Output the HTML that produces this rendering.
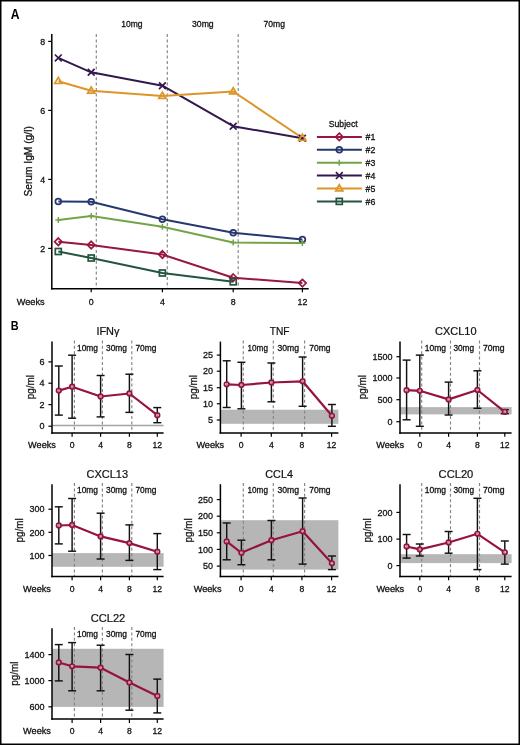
<!DOCTYPE html>
<html><head><meta charset="utf-8"><style>
html,body{margin:0;padding:0;background:#fff;}
body{width:520px;height:745px;overflow:hidden;}
svg{display:block;font-family:"Liberation Sans", sans-serif;will-change:transform;}
</style></head><body>
<svg width="520" height="745" viewBox="0 0 520 745">
<rect x="0" y="0" width="520" height="745" fill="#fff"/>
<text x="10.7" y="19.3" font-size="14.0" text-anchor="start" font-weight="bold" fill="#000" textLength="8.8" lengthAdjust="spacingAndGlyphs">A</text>
<line x1="96.3" y1="34" x2="96.3" y2="288.8" stroke="#858585" stroke-width="1.15" stroke-dasharray="3,2.4" stroke-linecap="butt"/>
<line x1="167.3" y1="34" x2="167.3" y2="288.8" stroke="#858585" stroke-width="1.15" stroke-dasharray="3,2.4" stroke-linecap="butt"/>
<line x1="238.2" y1="34" x2="238.2" y2="288.8" stroke="#858585" stroke-width="1.15" stroke-dasharray="3,2.4" stroke-linecap="butt"/>
<text x="121.2" y="27.4" font-size="8.6" text-anchor="start" font-weight="normal" fill="#111" stroke="#111" stroke-width="0.28" textLength="21.3" lengthAdjust="spacingAndGlyphs">10mg</text>
<text x="192" y="27.4" font-size="8.6" text-anchor="start" font-weight="normal" fill="#111" stroke="#111" stroke-width="0.28" textLength="21.7" lengthAdjust="spacingAndGlyphs">30mg</text>
<text x="263.6" y="27.4" font-size="8.6" text-anchor="start" font-weight="normal" fill="#111" stroke="#111" stroke-width="0.28" textLength="21.4" lengthAdjust="spacingAndGlyphs">70mg</text>
<line x1="51.8" y1="34" x2="51.8" y2="289.55" stroke="#000" stroke-width="1.5" stroke-linecap="butt"/>
<line x1="51.05" y1="288.8" x2="308.7" y2="288.8" stroke="#000" stroke-width="1.5" stroke-linecap="butt"/>
<line x1="48.2" y1="248.4" x2="51.8" y2="248.4" stroke="#000" stroke-width="1.2" stroke-linecap="butt"/>
<text x="45.2" y="251.6" font-size="8.8" text-anchor="end" font-weight="normal" fill="#111" stroke="#111" stroke-width="0.28">2</text>
<line x1="48.2" y1="179.4" x2="51.8" y2="179.4" stroke="#000" stroke-width="1.2" stroke-linecap="butt"/>
<text x="45.2" y="182.6" font-size="8.8" text-anchor="end" font-weight="normal" fill="#111" stroke="#111" stroke-width="0.28">4</text>
<line x1="48.2" y1="110.4" x2="51.8" y2="110.4" stroke="#000" stroke-width="1.2" stroke-linecap="butt"/>
<text x="45.2" y="113.60000000000001" font-size="8.8" text-anchor="end" font-weight="normal" fill="#111" stroke="#111" stroke-width="0.28">6</text>
<line x1="48.2" y1="41.4" x2="51.8" y2="41.4" stroke="#000" stroke-width="1.2" stroke-linecap="butt"/>
<text x="45.2" y="44.6" font-size="8.8" text-anchor="end" font-weight="normal" fill="#111" stroke="#111" stroke-width="0.28">8</text>
<line x1="91.2" y1="288.8" x2="91.2" y2="292.3" stroke="#000" stroke-width="1.2" stroke-linecap="butt"/>
<text x="91.2" y="304.6" font-size="8.8" text-anchor="middle" font-weight="normal" fill="#111" stroke="#111" stroke-width="0.28">0</text>
<line x1="162.4" y1="288.8" x2="162.4" y2="292.3" stroke="#000" stroke-width="1.2" stroke-linecap="butt"/>
<text x="162.4" y="304.6" font-size="8.8" text-anchor="middle" font-weight="normal" fill="#111" stroke="#111" stroke-width="0.28">4</text>
<line x1="233.2" y1="288.8" x2="233.2" y2="292.3" stroke="#000" stroke-width="1.2" stroke-linecap="butt"/>
<text x="233.2" y="304.6" font-size="8.8" text-anchor="middle" font-weight="normal" fill="#111" stroke="#111" stroke-width="0.28">8</text>
<line x1="302.4" y1="288.8" x2="302.4" y2="292.3" stroke="#000" stroke-width="1.2" stroke-linecap="butt"/>
<text x="302.4" y="304.6" font-size="8.8" text-anchor="middle" font-weight="normal" fill="#111" stroke="#111" stroke-width="0.28">12</text>
<text x="16.7" y="304.6" font-size="8.8" text-anchor="start" font-weight="normal" fill="#111" stroke="#111" stroke-width="0.28" textLength="27.9" lengthAdjust="spacingAndGlyphs">Weeks</text>
<text x="32.5" y="161.4" font-size="10.3" text-anchor="middle" font-weight="normal" fill="#111" stroke="#111" stroke-width="0.28" textLength="70.4" lengthAdjust="spacingAndGlyphs" transform="rotate(-90 32.5 161.4)">Serum IgM (g/l)</text>
<polyline points="58.3,241.75 91.2,245.0 162.4,254.5 233.2,277.7 302.4,283.1" fill="none" stroke="#98173e" stroke-width="2.0" stroke-linejoin="round"/>
<polyline points="58.3,201.5 91.2,201.75 162.4,219.25 233.2,232.7 302.4,239.6" fill="none" stroke="#26396e" stroke-width="2.0" stroke-linejoin="round"/>
<polyline points="58.3,220.0 91.2,216.0 162.4,226.75 233.2,242.6 302.4,243.1" fill="none" stroke="#72a548" stroke-width="2.0" stroke-linejoin="round"/>
<polyline points="58.3,57.9 91.2,72.3 162.4,85.7 233.2,126.2 302.4,138.3" fill="none" stroke="#33184e" stroke-width="2.0" stroke-linejoin="round"/>
<polyline points="58.3,81.2 91.2,90.8 162.4,96.0 233.2,91.5 302.4,138.0" fill="none" stroke="#dc9628" stroke-width="2.0" stroke-linejoin="round"/>
<polyline points="58.3,251.5 91.2,258.0 162.4,273.0 233.2,281.8" fill="none" stroke="#24553f" stroke-width="2.0" stroke-linejoin="round"/>
<path d="M58.3 238.05 L62.0 241.75 L58.3 245.45 L54.599999999999994 241.75 Z" fill="none" stroke="#98173e" stroke-width="1.7"/>
<path d="M91.2 241.3 L94.9 245.0 L91.2 248.7 L87.5 245.0 Z" fill="none" stroke="#98173e" stroke-width="1.7"/>
<path d="M162.4 250.8 L166.1 254.5 L162.4 258.2 L158.70000000000002 254.5 Z" fill="none" stroke="#98173e" stroke-width="1.7"/>
<path d="M233.2 274.0 L236.89999999999998 277.7 L233.2 281.4 L229.5 277.7 Z" fill="none" stroke="#98173e" stroke-width="1.7"/>
<path d="M302.4 279.40000000000003 L306.09999999999997 283.1 L302.4 286.8 L298.7 283.1 Z" fill="none" stroke="#98173e" stroke-width="1.7"/>
<circle cx="58.3" cy="201.5" r="2.9" fill="none" stroke="#26396e" stroke-width="1.7"/>
<circle cx="91.2" cy="201.75" r="2.9" fill="none" stroke="#26396e" stroke-width="1.7"/>
<circle cx="162.4" cy="219.25" r="2.9" fill="none" stroke="#26396e" stroke-width="1.7"/>
<circle cx="233.2" cy="232.7" r="2.9" fill="none" stroke="#26396e" stroke-width="1.7"/>
<circle cx="302.4" cy="239.6" r="2.9" fill="none" stroke="#26396e" stroke-width="1.7"/>
<line x1="58.3" y1="217.0" x2="58.3" y2="223.0" stroke="#72a548" stroke-width="1.5" stroke-linecap="butt"/>
<line x1="55.3" y1="220.0" x2="61.3" y2="220.0" stroke="#72a548" stroke-width="1.5" stroke-linecap="butt"/>
<line x1="91.2" y1="213.0" x2="91.2" y2="219.0" stroke="#72a548" stroke-width="1.5" stroke-linecap="butt"/>
<line x1="88.2" y1="216.0" x2="94.2" y2="216.0" stroke="#72a548" stroke-width="1.5" stroke-linecap="butt"/>
<line x1="162.4" y1="223.75" x2="162.4" y2="229.75" stroke="#72a548" stroke-width="1.5" stroke-linecap="butt"/>
<line x1="159.4" y1="226.75" x2="165.4" y2="226.75" stroke="#72a548" stroke-width="1.5" stroke-linecap="butt"/>
<line x1="233.2" y1="239.6" x2="233.2" y2="245.6" stroke="#72a548" stroke-width="1.5" stroke-linecap="butt"/>
<line x1="230.2" y1="242.6" x2="236.2" y2="242.6" stroke="#72a548" stroke-width="1.5" stroke-linecap="butt"/>
<line x1="302.4" y1="240.1" x2="302.4" y2="246.1" stroke="#72a548" stroke-width="1.5" stroke-linecap="butt"/>
<line x1="299.4" y1="243.1" x2="305.4" y2="243.1" stroke="#72a548" stroke-width="1.5" stroke-linecap="butt"/>
<line x1="54.9" y1="54.5" x2="61.699999999999996" y2="61.3" stroke="#33184e" stroke-width="1.7" stroke-linecap="butt"/>
<line x1="54.9" y1="61.3" x2="61.699999999999996" y2="54.5" stroke="#33184e" stroke-width="1.7" stroke-linecap="butt"/>
<line x1="87.8" y1="68.89999999999999" x2="94.60000000000001" y2="75.7" stroke="#33184e" stroke-width="1.7" stroke-linecap="butt"/>
<line x1="87.8" y1="75.7" x2="94.60000000000001" y2="68.89999999999999" stroke="#33184e" stroke-width="1.7" stroke-linecap="butt"/>
<line x1="159.0" y1="82.3" x2="165.8" y2="89.10000000000001" stroke="#33184e" stroke-width="1.7" stroke-linecap="butt"/>
<line x1="159.0" y1="89.10000000000001" x2="165.8" y2="82.3" stroke="#33184e" stroke-width="1.7" stroke-linecap="butt"/>
<line x1="229.79999999999998" y1="122.8" x2="236.6" y2="129.6" stroke="#33184e" stroke-width="1.7" stroke-linecap="butt"/>
<line x1="229.79999999999998" y1="129.6" x2="236.6" y2="122.8" stroke="#33184e" stroke-width="1.7" stroke-linecap="butt"/>
<line x1="299.0" y1="134.9" x2="305.79999999999995" y2="141.70000000000002" stroke="#33184e" stroke-width="1.7" stroke-linecap="butt"/>
<line x1="299.0" y1="141.70000000000002" x2="305.79999999999995" y2="134.9" stroke="#33184e" stroke-width="1.7" stroke-linecap="butt"/>
<path d="M58.3 77.4 L61.9 83.5 L54.699999999999996 83.5 Z" fill="none" stroke="#dc9628" stroke-width="1.7" stroke-linejoin="miter"/>
<path d="M91.2 87.0 L94.8 93.1 L87.60000000000001 93.1 Z" fill="none" stroke="#dc9628" stroke-width="1.7" stroke-linejoin="miter"/>
<path d="M162.4 92.2 L166.0 98.3 L158.8 98.3 Z" fill="none" stroke="#dc9628" stroke-width="1.7" stroke-linejoin="miter"/>
<path d="M233.2 87.7 L236.79999999999998 93.8 L229.6 93.8 Z" fill="none" stroke="#dc9628" stroke-width="1.7" stroke-linejoin="miter"/>
<path d="M302.4 134.2 L306.0 140.3 L298.79999999999995 140.3 Z" fill="none" stroke="#dc9628" stroke-width="1.7" stroke-linejoin="miter"/>
<rect x="55.3" y="248.5" width="6.0" height="6.0" fill="none" stroke="#24553f" stroke-width="1.7"/>
<rect x="88.2" y="255.0" width="6.0" height="6.0" fill="none" stroke="#24553f" stroke-width="1.7"/>
<rect x="159.4" y="270.0" width="6.0" height="6.0" fill="none" stroke="#24553f" stroke-width="1.7"/>
<rect x="230.2" y="278.8" width="6.0" height="6.0" fill="none" stroke="#24553f" stroke-width="1.7"/>
<text x="328.7" y="127.0" font-size="8.8" text-anchor="start" font-weight="normal" fill="#111" stroke="#111" stroke-width="0.28" textLength="29" lengthAdjust="spacingAndGlyphs">Subject</text>
<line x1="316.9" y1="136.9" x2="361.9" y2="136.9" stroke="#98173e" stroke-width="2.0" stroke-linecap="butt"/>
<path d="M339.3 133.20000000000002 L343.0 136.9 L339.3 140.6 L335.6 136.9 Z" fill="none" stroke="#98173e" stroke-width="1.7"/>
<text x="365.5" y="140.1" font-size="8.8" text-anchor="start" font-weight="normal" fill="#111" stroke="#111" stroke-width="0.28">#1</text>
<line x1="316.9" y1="149.8" x2="361.9" y2="149.8" stroke="#26396e" stroke-width="2.0" stroke-linecap="butt"/>
<circle cx="339.3" cy="149.8" r="2.9" fill="none" stroke="#26396e" stroke-width="1.7"/>
<text x="365.5" y="153.0" font-size="8.8" text-anchor="start" font-weight="normal" fill="#111" stroke="#111" stroke-width="0.28">#2</text>
<line x1="316.9" y1="162.70000000000002" x2="361.9" y2="162.70000000000002" stroke="#72a548" stroke-width="2.0" stroke-linecap="butt"/>
<line x1="339.3" y1="159.70000000000002" x2="339.3" y2="165.70000000000002" stroke="#72a548" stroke-width="1.5" stroke-linecap="butt"/>
<line x1="336.3" y1="162.70000000000002" x2="342.3" y2="162.70000000000002" stroke="#72a548" stroke-width="1.5" stroke-linecap="butt"/>
<text x="365.5" y="165.9" font-size="8.8" text-anchor="start" font-weight="normal" fill="#111" stroke="#111" stroke-width="0.28">#3</text>
<line x1="316.9" y1="175.60000000000002" x2="361.9" y2="175.60000000000002" stroke="#33184e" stroke-width="2.0" stroke-linecap="butt"/>
<line x1="335.90000000000003" y1="172.20000000000002" x2="342.7" y2="179.00000000000003" stroke="#33184e" stroke-width="1.7" stroke-linecap="butt"/>
<line x1="335.90000000000003" y1="179.00000000000003" x2="342.7" y2="172.20000000000002" stroke="#33184e" stroke-width="1.7" stroke-linecap="butt"/>
<text x="365.5" y="178.8" font-size="8.8" text-anchor="start" font-weight="normal" fill="#111" stroke="#111" stroke-width="0.28">#4</text>
<line x1="316.9" y1="188.5" x2="361.9" y2="188.5" stroke="#dc9628" stroke-width="2.0" stroke-linecap="butt"/>
<path d="M339.3 184.7 L342.90000000000003 190.8 L335.7 190.8 Z" fill="none" stroke="#dc9628" stroke-width="1.7" stroke-linejoin="miter"/>
<text x="365.5" y="191.7" font-size="8.8" text-anchor="start" font-weight="normal" fill="#111" stroke="#111" stroke-width="0.28">#5</text>
<line x1="316.9" y1="201.4" x2="361.9" y2="201.4" stroke="#24553f" stroke-width="2.0" stroke-linecap="butt"/>
<rect x="336.3" y="198.4" width="6.0" height="6.0" fill="none" stroke="#24553f" stroke-width="1.7"/>
<text x="365.5" y="204.6" font-size="8.8" text-anchor="start" font-weight="normal" fill="#111" stroke="#111" stroke-width="0.28">#6</text>
<text x="10.8" y="329.9" font-size="13.2" text-anchor="start" font-weight="bold" fill="#000" textLength="7.9" lengthAdjust="spacingAndGlyphs">B</text>
<line x1="52.0" y1="425.5" x2="163.6" y2="425.5" stroke="#a4a4a4" stroke-width="1.4" stroke-linecap="butt"/>
<line x1="74.4" y1="340.40000000000003" x2="74.4" y2="432.9" stroke="#858585" stroke-width="1.15" stroke-dasharray="3,2.4" stroke-linecap="butt"/>
<line x1="102.4" y1="340.40000000000003" x2="102.4" y2="432.9" stroke="#858585" stroke-width="1.15" stroke-dasharray="3,2.4" stroke-linecap="butt"/>
<line x1="131.8" y1="340.40000000000003" x2="131.8" y2="432.9" stroke="#858585" stroke-width="1.15" stroke-dasharray="3,2.4" stroke-linecap="butt"/>
<text x="77.0" y="350.6" font-size="8.2" text-anchor="start" font-weight="normal" fill="#111" stroke="#111" stroke-width="0.28" textLength="20.9" lengthAdjust="spacingAndGlyphs">10mg</text>
<text x="106.0" y="350.6" font-size="8.2" text-anchor="start" font-weight="normal" fill="#111" stroke="#111" stroke-width="0.28" textLength="21.0" lengthAdjust="spacingAndGlyphs">30mg</text>
<text x="135.4" y="350.6" font-size="8.2" text-anchor="start" font-weight="normal" fill="#111" stroke="#111" stroke-width="0.28" textLength="21.0" lengthAdjust="spacingAndGlyphs">70mg</text>
<text x="96.4" y="335.1" font-size="10.2" text-anchor="start" font-weight="normal" fill="#111" stroke="#111" stroke-width="0.2" textLength="23.1" lengthAdjust="spacingAndGlyphs">IFNγ</text>
<line x1="52.0" y1="341.6" x2="52.0" y2="433.65" stroke="#000" stroke-width="1.5" stroke-linecap="butt"/>
<line x1="51.25" y1="432.9" x2="163.6" y2="432.9" stroke="#000" stroke-width="1.5" stroke-linecap="butt"/>
<line x1="48.4" y1="426.2" x2="52.0" y2="426.2" stroke="#000" stroke-width="1.2" stroke-linecap="butt"/>
<text x="44.6" y="429.4" font-size="9.0" text-anchor="end" font-weight="normal" fill="#111" stroke="#111" stroke-width="0.28">0</text>
<line x1="48.4" y1="404.6" x2="52.0" y2="404.6" stroke="#000" stroke-width="1.2" stroke-linecap="butt"/>
<text x="44.6" y="407.8" font-size="9.0" text-anchor="end" font-weight="normal" fill="#111" stroke="#111" stroke-width="0.28">2</text>
<line x1="48.4" y1="383.2" x2="52.0" y2="383.2" stroke="#000" stroke-width="1.2" stroke-linecap="butt"/>
<text x="44.6" y="386.4" font-size="9.0" text-anchor="end" font-weight="normal" fill="#111" stroke="#111" stroke-width="0.28">4</text>
<line x1="48.4" y1="361.9" x2="52.0" y2="361.9" stroke="#000" stroke-width="1.2" stroke-linecap="butt"/>
<text x="44.6" y="365.09999999999997" font-size="9.0" text-anchor="end" font-weight="normal" fill="#111" stroke="#111" stroke-width="0.28">6</text>
<line x1="72.1" y1="432.9" x2="72.1" y2="436.7" stroke="#000" stroke-width="1.2" stroke-linecap="butt"/>
<text x="72.1" y="448.2" font-size="8.6" text-anchor="middle" font-weight="normal" fill="#111" stroke="#111" stroke-width="0.28">0</text>
<line x1="100.6" y1="432.9" x2="100.6" y2="436.7" stroke="#000" stroke-width="1.2" stroke-linecap="butt"/>
<text x="100.6" y="448.2" font-size="8.6" text-anchor="middle" font-weight="normal" fill="#111" stroke="#111" stroke-width="0.28">4</text>
<line x1="129.4" y1="432.9" x2="129.4" y2="436.7" stroke="#000" stroke-width="1.2" stroke-linecap="butt"/>
<text x="129.4" y="448.2" font-size="8.6" text-anchor="middle" font-weight="normal" fill="#111" stroke="#111" stroke-width="0.28">8</text>
<line x1="157.3" y1="432.9" x2="157.3" y2="436.7" stroke="#000" stroke-width="1.2" stroke-linecap="butt"/>
<text x="157.3" y="448.2" font-size="8.6" text-anchor="middle" font-weight="normal" fill="#111" stroke="#111" stroke-width="0.28">12</text>
<text x="28.1" y="448.0" font-size="8.6" text-anchor="start" font-weight="normal" fill="#111" stroke="#111" stroke-width="0.28" textLength="27.8" lengthAdjust="spacingAndGlyphs">Weeks</text>
<text x="33.6" y="387.25" font-size="11.0" text-anchor="middle" font-weight="normal" fill="#111" stroke="#111" stroke-width="0.28" textLength="24.2" lengthAdjust="spacingAndGlyphs" transform="rotate(-90 33.6 387.25)">pg/ml</text>
<line x1="58.8" y1="366.0" x2="58.8" y2="415.1" stroke="#111" stroke-width="1.45" stroke-linecap="butt"/>
<line x1="54.8" y1="366.0" x2="62.8" y2="366.0" stroke="#111" stroke-width="1.45" stroke-linecap="butt"/>
<line x1="54.8" y1="415.1" x2="62.8" y2="415.1" stroke="#111" stroke-width="1.45" stroke-linecap="butt"/>
<line x1="72.1" y1="355.2" x2="72.1" y2="418.2" stroke="#111" stroke-width="1.45" stroke-linecap="butt"/>
<line x1="68.1" y1="355.2" x2="76.1" y2="355.2" stroke="#111" stroke-width="1.45" stroke-linecap="butt"/>
<line x1="68.1" y1="418.2" x2="76.1" y2="418.2" stroke="#111" stroke-width="1.45" stroke-linecap="butt"/>
<line x1="100.6" y1="375.5" x2="100.6" y2="416.9" stroke="#111" stroke-width="1.45" stroke-linecap="butt"/>
<line x1="96.6" y1="375.5" x2="104.6" y2="375.5" stroke="#111" stroke-width="1.45" stroke-linecap="butt"/>
<line x1="96.6" y1="416.9" x2="104.6" y2="416.9" stroke="#111" stroke-width="1.45" stroke-linecap="butt"/>
<line x1="129.4" y1="374.2" x2="129.4" y2="412.4" stroke="#111" stroke-width="1.45" stroke-linecap="butt"/>
<line x1="125.4" y1="374.2" x2="133.4" y2="374.2" stroke="#111" stroke-width="1.45" stroke-linecap="butt"/>
<line x1="125.4" y1="412.4" x2="133.4" y2="412.4" stroke="#111" stroke-width="1.45" stroke-linecap="butt"/>
<line x1="157.3" y1="407.6" x2="157.3" y2="422.7" stroke="#111" stroke-width="1.45" stroke-linecap="butt"/>
<line x1="153.3" y1="407.6" x2="161.3" y2="407.6" stroke="#111" stroke-width="1.45" stroke-linecap="butt"/>
<line x1="153.3" y1="422.7" x2="161.3" y2="422.7" stroke="#111" stroke-width="1.45" stroke-linecap="butt"/>
<polyline points="58.8,390.6 72.1,386.7 100.6,396.5 129.4,393.5 157.3,415.2" fill="none" stroke="#96143c" stroke-width="2.2" stroke-linejoin="round"/>
<circle cx="58.8" cy="390.6" r="2.3" fill="#fff" fill-opacity="0.55" stroke="#96143c" stroke-width="1.7"/>
<circle cx="72.1" cy="386.7" r="2.3" fill="#fff" fill-opacity="0.55" stroke="#96143c" stroke-width="1.7"/>
<circle cx="100.6" cy="396.5" r="2.3" fill="#fff" fill-opacity="0.55" stroke="#96143c" stroke-width="1.7"/>
<circle cx="129.4" cy="393.5" r="2.3" fill="#fff" fill-opacity="0.55" stroke="#96143c" stroke-width="1.7"/>
<circle cx="157.3" cy="415.2" r="2.3" fill="#fff" fill-opacity="0.55" stroke="#96143c" stroke-width="1.7"/>
<rect x="220.4" y="409.7" width="117.99999999999997" height="14.100000000000023" fill="#b6b6b6"/>
<line x1="243.3" y1="340.40000000000003" x2="243.3" y2="432.9" stroke="#858585" stroke-width="1.15" stroke-dasharray="3,2.4" stroke-linecap="butt"/>
<line x1="273.3" y1="340.40000000000003" x2="273.3" y2="432.9" stroke="#858585" stroke-width="1.15" stroke-dasharray="3,2.4" stroke-linecap="butt"/>
<line x1="304.6" y1="340.40000000000003" x2="304.6" y2="432.9" stroke="#858585" stroke-width="1.15" stroke-dasharray="3,2.4" stroke-linecap="butt"/>
<text x="247.6" y="350.6" font-size="8.2" text-anchor="start" font-weight="normal" fill="#111" stroke="#111" stroke-width="0.28" textLength="20.3" lengthAdjust="spacingAndGlyphs">10mg</text>
<text x="277.4" y="350.6" font-size="8.2" text-anchor="start" font-weight="normal" fill="#111" stroke="#111" stroke-width="0.28" textLength="21.6" lengthAdjust="spacingAndGlyphs">30mg</text>
<text x="309.3" y="350.6" font-size="8.2" text-anchor="start" font-weight="normal" fill="#111" stroke="#111" stroke-width="0.28" textLength="21.2" lengthAdjust="spacingAndGlyphs">70mg</text>
<text x="269.7" y="335.1" font-size="10.2" text-anchor="start" font-weight="normal" fill="#111" stroke="#111" stroke-width="0.2" textLength="19.8" lengthAdjust="spacingAndGlyphs">TNF</text>
<line x1="220.4" y1="341.6" x2="220.4" y2="433.65" stroke="#000" stroke-width="1.5" stroke-linecap="butt"/>
<line x1="219.65" y1="432.9" x2="338.4" y2="432.9" stroke="#000" stroke-width="1.5" stroke-linecap="butt"/>
<line x1="216.8" y1="420.0" x2="220.4" y2="420.0" stroke="#000" stroke-width="1.2" stroke-linecap="butt"/>
<text x="213.0" y="423.2" font-size="9.0" text-anchor="end" font-weight="normal" fill="#111" stroke="#111" stroke-width="0.28">5</text>
<line x1="216.8" y1="403.75" x2="220.4" y2="403.75" stroke="#000" stroke-width="1.2" stroke-linecap="butt"/>
<text x="213.0" y="406.95" font-size="9.0" text-anchor="end" font-weight="normal" fill="#111" stroke="#111" stroke-width="0.28">10</text>
<line x1="216.8" y1="387.7" x2="220.4" y2="387.7" stroke="#000" stroke-width="1.2" stroke-linecap="butt"/>
<text x="213.0" y="390.9" font-size="9.0" text-anchor="end" font-weight="normal" fill="#111" stroke="#111" stroke-width="0.28">15</text>
<line x1="216.8" y1="371.2" x2="220.4" y2="371.2" stroke="#000" stroke-width="1.2" stroke-linecap="butt"/>
<text x="213.0" y="374.4" font-size="9.0" text-anchor="end" font-weight="normal" fill="#111" stroke="#111" stroke-width="0.28">20</text>
<line x1="216.8" y1="355.1" x2="220.4" y2="355.1" stroke="#000" stroke-width="1.2" stroke-linecap="butt"/>
<text x="213.0" y="358.3" font-size="9.0" text-anchor="end" font-weight="normal" fill="#111" stroke="#111" stroke-width="0.28">25</text>
<line x1="241.1" y1="432.9" x2="241.1" y2="436.7" stroke="#000" stroke-width="1.2" stroke-linecap="butt"/>
<text x="241.1" y="448.2" font-size="8.6" text-anchor="middle" font-weight="normal" fill="#111" stroke="#111" stroke-width="0.28">0</text>
<line x1="271.3" y1="432.9" x2="271.3" y2="436.7" stroke="#000" stroke-width="1.2" stroke-linecap="butt"/>
<text x="271.3" y="448.2" font-size="8.6" text-anchor="middle" font-weight="normal" fill="#111" stroke="#111" stroke-width="0.28">4</text>
<line x1="301.9" y1="432.9" x2="301.9" y2="436.7" stroke="#000" stroke-width="1.2" stroke-linecap="butt"/>
<text x="301.9" y="448.2" font-size="8.6" text-anchor="middle" font-weight="normal" fill="#111" stroke="#111" stroke-width="0.28">8</text>
<line x1="331.6" y1="432.9" x2="331.6" y2="436.7" stroke="#000" stroke-width="1.2" stroke-linecap="butt"/>
<text x="331.6" y="448.2" font-size="8.6" text-anchor="middle" font-weight="normal" fill="#111" stroke="#111" stroke-width="0.28">12</text>
<text x="196.4" y="448.0" font-size="8.6" text-anchor="start" font-weight="normal" fill="#111" stroke="#111" stroke-width="0.28" textLength="27.8" lengthAdjust="spacingAndGlyphs">Weeks</text>
<text x="196.8" y="387.25" font-size="11.0" text-anchor="middle" font-weight="normal" fill="#111" stroke="#111" stroke-width="0.28" textLength="24.2" lengthAdjust="spacingAndGlyphs" transform="rotate(-90 196.8 387.25)">pg/ml</text>
<line x1="226.7" y1="360.8" x2="226.7" y2="407.5" stroke="#111" stroke-width="1.45" stroke-linecap="butt"/>
<line x1="222.7" y1="360.8" x2="230.7" y2="360.8" stroke="#111" stroke-width="1.45" stroke-linecap="butt"/>
<line x1="222.7" y1="407.5" x2="230.7" y2="407.5" stroke="#111" stroke-width="1.45" stroke-linecap="butt"/>
<line x1="241.4" y1="362.3" x2="241.4" y2="408.8" stroke="#111" stroke-width="1.45" stroke-linecap="butt"/>
<line x1="237.4" y1="362.3" x2="245.4" y2="362.3" stroke="#111" stroke-width="1.45" stroke-linecap="butt"/>
<line x1="237.4" y1="408.8" x2="245.4" y2="408.8" stroke="#111" stroke-width="1.45" stroke-linecap="butt"/>
<line x1="271.4" y1="363.0" x2="271.4" y2="401.8" stroke="#111" stroke-width="1.45" stroke-linecap="butt"/>
<line x1="267.4" y1="363.0" x2="275.4" y2="363.0" stroke="#111" stroke-width="1.45" stroke-linecap="butt"/>
<line x1="267.4" y1="401.8" x2="275.4" y2="401.8" stroke="#111" stroke-width="1.45" stroke-linecap="butt"/>
<line x1="302.6" y1="357.0" x2="302.6" y2="406.3" stroke="#111" stroke-width="1.45" stroke-linecap="butt"/>
<line x1="298.6" y1="357.0" x2="306.6" y2="357.0" stroke="#111" stroke-width="1.45" stroke-linecap="butt"/>
<line x1="298.6" y1="406.3" x2="306.6" y2="406.3" stroke="#111" stroke-width="1.45" stroke-linecap="butt"/>
<line x1="331.9" y1="404.5" x2="331.9" y2="426.3" stroke="#111" stroke-width="1.45" stroke-linecap="butt"/>
<line x1="327.9" y1="404.5" x2="335.9" y2="404.5" stroke="#111" stroke-width="1.45" stroke-linecap="butt"/>
<line x1="327.9" y1="426.3" x2="335.9" y2="426.3" stroke="#111" stroke-width="1.45" stroke-linecap="butt"/>
<polyline points="226.7,384.3 241.4,385.0 271.4,382.5 302.6,381.3 331.9,415.8" fill="none" stroke="#96143c" stroke-width="2.2" stroke-linejoin="round"/>
<circle cx="226.7" cy="384.3" r="2.3" fill="#fff" fill-opacity="0.55" stroke="#96143c" stroke-width="1.7"/>
<circle cx="241.4" cy="385.0" r="2.3" fill="#fff" fill-opacity="0.55" stroke="#96143c" stroke-width="1.7"/>
<circle cx="271.4" cy="382.5" r="2.3" fill="#fff" fill-opacity="0.55" stroke="#96143c" stroke-width="1.7"/>
<circle cx="302.6" cy="381.3" r="2.3" fill="#fff" fill-opacity="0.55" stroke="#96143c" stroke-width="1.7"/>
<circle cx="331.9" cy="415.8" r="2.3" fill="#fff" fill-opacity="0.55" stroke="#96143c" stroke-width="1.7"/>
<rect x="400.0" y="407.1" width="111.60000000000002" height="7.2999999999999545" fill="#b6b6b6"/>
<line x1="421.7" y1="340.40000000000003" x2="421.7" y2="432.9" stroke="#858585" stroke-width="1.15" stroke-dasharray="3,2.4" stroke-linecap="butt"/>
<line x1="450.5" y1="340.40000000000003" x2="450.5" y2="432.9" stroke="#858585" stroke-width="1.15" stroke-dasharray="3,2.4" stroke-linecap="butt"/>
<line x1="479.5" y1="340.40000000000003" x2="479.5" y2="432.9" stroke="#858585" stroke-width="1.15" stroke-dasharray="3,2.4" stroke-linecap="butt"/>
<text x="424.8" y="350.6" font-size="8.2" text-anchor="start" font-weight="normal" fill="#111" stroke="#111" stroke-width="0.28" textLength="21.2" lengthAdjust="spacingAndGlyphs">10mg</text>
<text x="453.4" y="350.6" font-size="8.2" text-anchor="start" font-weight="normal" fill="#111" stroke="#111" stroke-width="0.28" textLength="20.7" lengthAdjust="spacingAndGlyphs">30mg</text>
<text x="483.0" y="350.6" font-size="8.2" text-anchor="start" font-weight="normal" fill="#111" stroke="#111" stroke-width="0.28" textLength="21.6" lengthAdjust="spacingAndGlyphs">70mg</text>
<text x="435.0" y="335.1" font-size="10.2" text-anchor="start" font-weight="normal" fill="#111" stroke="#111" stroke-width="0.2" textLength="41.6" lengthAdjust="spacingAndGlyphs">CXCL10</text>
<line x1="400.0" y1="341.6" x2="400.0" y2="433.65" stroke="#000" stroke-width="1.5" stroke-linecap="butt"/>
<line x1="399.25" y1="432.9" x2="511.6" y2="432.9" stroke="#000" stroke-width="1.5" stroke-linecap="butt"/>
<line x1="396.4" y1="421.7" x2="400.0" y2="421.7" stroke="#000" stroke-width="1.2" stroke-linecap="butt"/>
<text x="392.6" y="424.9" font-size="9.0" text-anchor="end" font-weight="normal" fill="#111" stroke="#111" stroke-width="0.28">0</text>
<line x1="396.4" y1="399.7" x2="400.0" y2="399.7" stroke="#000" stroke-width="1.2" stroke-linecap="butt"/>
<text x="392.6" y="402.9" font-size="9.0" text-anchor="end" font-weight="normal" fill="#111" stroke="#111" stroke-width="0.28">500</text>
<line x1="396.4" y1="378.0" x2="400.0" y2="378.0" stroke="#000" stroke-width="1.2" stroke-linecap="butt"/>
<text x="392.6" y="381.2" font-size="9.0" text-anchor="end" font-weight="normal" fill="#111" stroke="#111" stroke-width="0.28">1000</text>
<line x1="396.4" y1="356.7" x2="400.0" y2="356.7" stroke="#000" stroke-width="1.2" stroke-linecap="butt"/>
<text x="392.6" y="359.9" font-size="9.0" text-anchor="end" font-weight="normal" fill="#111" stroke="#111" stroke-width="0.28">1500</text>
<line x1="419.8" y1="432.9" x2="419.8" y2="436.7" stroke="#000" stroke-width="1.2" stroke-linecap="butt"/>
<text x="419.8" y="448.2" font-size="8.6" text-anchor="middle" font-weight="normal" fill="#111" stroke="#111" stroke-width="0.28">0</text>
<line x1="448.6" y1="432.9" x2="448.6" y2="436.7" stroke="#000" stroke-width="1.2" stroke-linecap="butt"/>
<text x="448.6" y="448.2" font-size="8.6" text-anchor="middle" font-weight="normal" fill="#111" stroke="#111" stroke-width="0.28">4</text>
<line x1="477.4" y1="432.9" x2="477.4" y2="436.7" stroke="#000" stroke-width="1.2" stroke-linecap="butt"/>
<text x="477.4" y="448.2" font-size="8.6" text-anchor="middle" font-weight="normal" fill="#111" stroke="#111" stroke-width="0.28">8</text>
<line x1="504.8" y1="432.9" x2="504.8" y2="436.7" stroke="#000" stroke-width="1.2" stroke-linecap="butt"/>
<text x="504.8" y="448.2" font-size="8.6" text-anchor="middle" font-weight="normal" fill="#111" stroke="#111" stroke-width="0.28">12</text>
<text x="376.2" y="448.0" font-size="8.6" text-anchor="start" font-weight="normal" fill="#111" stroke="#111" stroke-width="0.28" textLength="27.8" lengthAdjust="spacingAndGlyphs">Weeks</text>
<text x="366.0" y="387.25" font-size="11.0" text-anchor="middle" font-weight="normal" fill="#111" stroke="#111" stroke-width="0.28" textLength="24.2" lengthAdjust="spacingAndGlyphs" transform="rotate(-90 366.0 387.25)">pg/ml</text>
<line x1="406.6" y1="360.1" x2="406.6" y2="419.8" stroke="#111" stroke-width="1.45" stroke-linecap="butt"/>
<line x1="402.6" y1="360.1" x2="410.6" y2="360.1" stroke="#111" stroke-width="1.45" stroke-linecap="butt"/>
<line x1="402.6" y1="419.8" x2="410.6" y2="419.8" stroke="#111" stroke-width="1.45" stroke-linecap="butt"/>
<line x1="419.8" y1="355.1" x2="419.8" y2="426.3" stroke="#111" stroke-width="1.45" stroke-linecap="butt"/>
<line x1="415.8" y1="355.1" x2="423.8" y2="355.1" stroke="#111" stroke-width="1.45" stroke-linecap="butt"/>
<line x1="415.8" y1="426.3" x2="423.8" y2="426.3" stroke="#111" stroke-width="1.45" stroke-linecap="butt"/>
<line x1="448.6" y1="382.1" x2="448.6" y2="415.0" stroke="#111" stroke-width="1.45" stroke-linecap="butt"/>
<line x1="444.6" y1="382.1" x2="452.6" y2="382.1" stroke="#111" stroke-width="1.45" stroke-linecap="butt"/>
<line x1="444.6" y1="415.0" x2="452.6" y2="415.0" stroke="#111" stroke-width="1.45" stroke-linecap="butt"/>
<line x1="477.4" y1="370.8" x2="477.4" y2="408.3" stroke="#111" stroke-width="1.45" stroke-linecap="butt"/>
<line x1="473.4" y1="370.8" x2="481.4" y2="370.8" stroke="#111" stroke-width="1.45" stroke-linecap="butt"/>
<line x1="473.4" y1="408.3" x2="481.4" y2="408.3" stroke="#111" stroke-width="1.45" stroke-linecap="butt"/>
<line x1="504.8" y1="409.6" x2="504.8" y2="413.7" stroke="#111" stroke-width="1.45" stroke-linecap="butt"/>
<line x1="500.8" y1="409.6" x2="508.8" y2="409.6" stroke="#111" stroke-width="1.45" stroke-linecap="butt"/>
<line x1="500.8" y1="413.7" x2="508.8" y2="413.7" stroke="#111" stroke-width="1.45" stroke-linecap="butt"/>
<polyline points="406.6,390.2 419.8,390.8 448.6,399.4 477.4,390.0 504.8,411.8" fill="none" stroke="#96143c" stroke-width="2.2" stroke-linejoin="round"/>
<circle cx="406.6" cy="390.2" r="2.3" fill="#fff" fill-opacity="0.55" stroke="#96143c" stroke-width="1.7"/>
<circle cx="419.8" cy="390.8" r="2.3" fill="#fff" fill-opacity="0.55" stroke="#96143c" stroke-width="1.7"/>
<circle cx="448.6" cy="399.4" r="2.3" fill="#fff" fill-opacity="0.55" stroke="#96143c" stroke-width="1.7"/>
<circle cx="477.4" cy="390.0" r="2.3" fill="#fff" fill-opacity="0.55" stroke="#96143c" stroke-width="1.7"/>
<circle cx="504.8" cy="411.8" r="2.3" fill="#fff" fill-opacity="0.55" stroke="#96143c" stroke-width="1.7"/>
<rect x="52.0" y="553.1" width="111.6" height="13.699999999999932" fill="#b6b6b6"/>
<line x1="74.4" y1="483.0" x2="74.4" y2="576.5" stroke="#858585" stroke-width="1.15" stroke-dasharray="3,2.4" stroke-linecap="butt"/>
<line x1="102.4" y1="483.0" x2="102.4" y2="576.5" stroke="#858585" stroke-width="1.15" stroke-dasharray="3,2.4" stroke-linecap="butt"/>
<line x1="131.8" y1="483.0" x2="131.8" y2="576.5" stroke="#858585" stroke-width="1.15" stroke-dasharray="3,2.4" stroke-linecap="butt"/>
<text x="77.0" y="493.2" font-size="8.2" text-anchor="start" font-weight="normal" fill="#111" stroke="#111" stroke-width="0.28" textLength="20.9" lengthAdjust="spacingAndGlyphs">10mg</text>
<text x="106.0" y="493.2" font-size="8.2" text-anchor="start" font-weight="normal" fill="#111" stroke="#111" stroke-width="0.28" textLength="21.0" lengthAdjust="spacingAndGlyphs">30mg</text>
<text x="135.4" y="493.2" font-size="8.2" text-anchor="start" font-weight="normal" fill="#111" stroke="#111" stroke-width="0.28" textLength="21.0" lengthAdjust="spacingAndGlyphs">70mg</text>
<text x="86.5" y="477.7" font-size="10.2" text-anchor="start" font-weight="normal" fill="#111" stroke="#111" stroke-width="0.2" textLength="41.5" lengthAdjust="spacingAndGlyphs">CXCL13</text>
<line x1="52.0" y1="484.2" x2="52.0" y2="577.25" stroke="#000" stroke-width="1.5" stroke-linecap="butt"/>
<line x1="51.25" y1="576.5" x2="163.6" y2="576.5" stroke="#000" stroke-width="1.5" stroke-linecap="butt"/>
<line x1="48.4" y1="555.5" x2="52.0" y2="555.5" stroke="#000" stroke-width="1.2" stroke-linecap="butt"/>
<text x="44.6" y="558.7" font-size="9.0" text-anchor="end" font-weight="normal" fill="#111" stroke="#111" stroke-width="0.28">100</text>
<line x1="48.4" y1="532.3" x2="52.0" y2="532.3" stroke="#000" stroke-width="1.2" stroke-linecap="butt"/>
<text x="44.6" y="535.5" font-size="9.0" text-anchor="end" font-weight="normal" fill="#111" stroke="#111" stroke-width="0.28">200</text>
<line x1="48.4" y1="509.2" x2="52.0" y2="509.2" stroke="#000" stroke-width="1.2" stroke-linecap="butt"/>
<text x="44.6" y="512.4" font-size="9.0" text-anchor="end" font-weight="normal" fill="#111" stroke="#111" stroke-width="0.28">300</text>
<line x1="72.1" y1="576.5" x2="72.1" y2="580.3" stroke="#000" stroke-width="1.2" stroke-linecap="butt"/>
<text x="72.1" y="591.8" font-size="8.6" text-anchor="middle" font-weight="normal" fill="#111" stroke="#111" stroke-width="0.28">0</text>
<line x1="100.6" y1="576.5" x2="100.6" y2="580.3" stroke="#000" stroke-width="1.2" stroke-linecap="butt"/>
<text x="100.6" y="591.8" font-size="8.6" text-anchor="middle" font-weight="normal" fill="#111" stroke="#111" stroke-width="0.28">4</text>
<line x1="129.4" y1="576.5" x2="129.4" y2="580.3" stroke="#000" stroke-width="1.2" stroke-linecap="butt"/>
<text x="129.4" y="591.8" font-size="8.6" text-anchor="middle" font-weight="normal" fill="#111" stroke="#111" stroke-width="0.28">8</text>
<line x1="157.3" y1="576.5" x2="157.3" y2="580.3" stroke="#000" stroke-width="1.2" stroke-linecap="butt"/>
<text x="157.3" y="591.8" font-size="8.6" text-anchor="middle" font-weight="normal" fill="#111" stroke="#111" stroke-width="0.28">12</text>
<text x="23.1" y="591.6" font-size="8.6" text-anchor="start" font-weight="normal" fill="#111" stroke="#111" stroke-width="0.28" textLength="27.8" lengthAdjust="spacingAndGlyphs">Weeks</text>
<text x="23.200000000000003" y="530.35" font-size="11.0" text-anchor="middle" font-weight="normal" fill="#111" stroke="#111" stroke-width="0.28" textLength="24.2" lengthAdjust="spacingAndGlyphs" transform="rotate(-90 23.200000000000003 530.35)">pg/ml</text>
<line x1="58.8" y1="506.8" x2="58.8" y2="543.9" stroke="#111" stroke-width="1.45" stroke-linecap="butt"/>
<line x1="54.8" y1="506.8" x2="62.8" y2="506.8" stroke="#111" stroke-width="1.45" stroke-linecap="butt"/>
<line x1="54.8" y1="543.9" x2="62.8" y2="543.9" stroke="#111" stroke-width="1.45" stroke-linecap="butt"/>
<line x1="72.1" y1="498.5" x2="72.1" y2="551.2" stroke="#111" stroke-width="1.45" stroke-linecap="butt"/>
<line x1="68.1" y1="498.5" x2="76.1" y2="498.5" stroke="#111" stroke-width="1.45" stroke-linecap="butt"/>
<line x1="68.1" y1="551.2" x2="76.1" y2="551.2" stroke="#111" stroke-width="1.45" stroke-linecap="butt"/>
<line x1="100.6" y1="513.2" x2="100.6" y2="559.0" stroke="#111" stroke-width="1.45" stroke-linecap="butt"/>
<line x1="96.6" y1="513.2" x2="104.6" y2="513.2" stroke="#111" stroke-width="1.45" stroke-linecap="butt"/>
<line x1="96.6" y1="559.0" x2="104.6" y2="559.0" stroke="#111" stroke-width="1.45" stroke-linecap="butt"/>
<line x1="129.4" y1="524.9" x2="129.4" y2="560.4" stroke="#111" stroke-width="1.45" stroke-linecap="butt"/>
<line x1="125.4" y1="524.9" x2="133.4" y2="524.9" stroke="#111" stroke-width="1.45" stroke-linecap="butt"/>
<line x1="125.4" y1="560.4" x2="133.4" y2="560.4" stroke="#111" stroke-width="1.45" stroke-linecap="butt"/>
<line x1="157.3" y1="533.6" x2="157.3" y2="569.6" stroke="#111" stroke-width="1.45" stroke-linecap="butt"/>
<line x1="153.3" y1="533.6" x2="161.3" y2="533.6" stroke="#111" stroke-width="1.45" stroke-linecap="butt"/>
<line x1="153.3" y1="569.6" x2="161.3" y2="569.6" stroke="#111" stroke-width="1.45" stroke-linecap="butt"/>
<polyline points="58.8,525.5 72.1,525.0 100.6,536.4 129.4,543.1 157.3,551.7" fill="none" stroke="#96143c" stroke-width="2.2" stroke-linejoin="round"/>
<circle cx="58.8" cy="525.5" r="2.3" fill="#fff" fill-opacity="0.55" stroke="#96143c" stroke-width="1.7"/>
<circle cx="72.1" cy="525.0" r="2.3" fill="#fff" fill-opacity="0.55" stroke="#96143c" stroke-width="1.7"/>
<circle cx="100.6" cy="536.4" r="2.3" fill="#fff" fill-opacity="0.55" stroke="#96143c" stroke-width="1.7"/>
<circle cx="129.4" cy="543.1" r="2.3" fill="#fff" fill-opacity="0.55" stroke="#96143c" stroke-width="1.7"/>
<circle cx="157.3" cy="551.7" r="2.3" fill="#fff" fill-opacity="0.55" stroke="#96143c" stroke-width="1.7"/>
<rect x="220.4" y="520.2" width="117.99999999999997" height="49.39999999999998" fill="#b6b6b6"/>
<line x1="243.3" y1="483.0" x2="243.3" y2="576.5" stroke="#858585" stroke-width="1.15" stroke-dasharray="3,2.4" stroke-linecap="butt"/>
<line x1="273.3" y1="483.0" x2="273.3" y2="576.5" stroke="#858585" stroke-width="1.15" stroke-dasharray="3,2.4" stroke-linecap="butt"/>
<line x1="304.6" y1="483.0" x2="304.6" y2="576.5" stroke="#858585" stroke-width="1.15" stroke-dasharray="3,2.4" stroke-linecap="butt"/>
<text x="247.6" y="493.2" font-size="8.2" text-anchor="start" font-weight="normal" fill="#111" stroke="#111" stroke-width="0.28" textLength="20.3" lengthAdjust="spacingAndGlyphs">10mg</text>
<text x="277.4" y="493.2" font-size="8.2" text-anchor="start" font-weight="normal" fill="#111" stroke="#111" stroke-width="0.28" textLength="21.6" lengthAdjust="spacingAndGlyphs">30mg</text>
<text x="309.3" y="493.2" font-size="8.2" text-anchor="start" font-weight="normal" fill="#111" stroke="#111" stroke-width="0.28" textLength="21.2" lengthAdjust="spacingAndGlyphs">70mg</text>
<text x="265.3" y="477.7" font-size="10.2" text-anchor="start" font-weight="normal" fill="#111" stroke="#111" stroke-width="0.2" textLength="27.6" lengthAdjust="spacingAndGlyphs">CCL4</text>
<line x1="220.4" y1="484.2" x2="220.4" y2="577.25" stroke="#000" stroke-width="1.5" stroke-linecap="butt"/>
<line x1="219.65" y1="576.5" x2="338.4" y2="576.5" stroke="#000" stroke-width="1.5" stroke-linecap="butt"/>
<line x1="216.8" y1="566.1" x2="220.4" y2="566.1" stroke="#000" stroke-width="1.2" stroke-linecap="butt"/>
<text x="213.0" y="569.3000000000001" font-size="9.0" text-anchor="end" font-weight="normal" fill="#111" stroke="#111" stroke-width="0.28">50</text>
<line x1="216.8" y1="549.4" x2="220.4" y2="549.4" stroke="#000" stroke-width="1.2" stroke-linecap="butt"/>
<text x="213.0" y="552.6" font-size="9.0" text-anchor="end" font-weight="normal" fill="#111" stroke="#111" stroke-width="0.28">100</text>
<line x1="216.8" y1="532.8" x2="220.4" y2="532.8" stroke="#000" stroke-width="1.2" stroke-linecap="butt"/>
<text x="213.0" y="536.0" font-size="9.0" text-anchor="end" font-weight="normal" fill="#111" stroke="#111" stroke-width="0.28">150</text>
<line x1="216.8" y1="516.2" x2="220.4" y2="516.2" stroke="#000" stroke-width="1.2" stroke-linecap="butt"/>
<text x="213.0" y="519.4000000000001" font-size="9.0" text-anchor="end" font-weight="normal" fill="#111" stroke="#111" stroke-width="0.28">200</text>
<line x1="216.8" y1="499.6" x2="220.4" y2="499.6" stroke="#000" stroke-width="1.2" stroke-linecap="butt"/>
<text x="213.0" y="502.8" font-size="9.0" text-anchor="end" font-weight="normal" fill="#111" stroke="#111" stroke-width="0.28">250</text>
<line x1="241.1" y1="576.5" x2="241.1" y2="580.3" stroke="#000" stroke-width="1.2" stroke-linecap="butt"/>
<text x="241.1" y="591.8" font-size="8.6" text-anchor="middle" font-weight="normal" fill="#111" stroke="#111" stroke-width="0.28">0</text>
<line x1="271.3" y1="576.5" x2="271.3" y2="580.3" stroke="#000" stroke-width="1.2" stroke-linecap="butt"/>
<text x="271.3" y="591.8" font-size="8.6" text-anchor="middle" font-weight="normal" fill="#111" stroke="#111" stroke-width="0.28">4</text>
<line x1="301.9" y1="576.5" x2="301.9" y2="580.3" stroke="#000" stroke-width="1.2" stroke-linecap="butt"/>
<text x="301.9" y="591.8" font-size="8.6" text-anchor="middle" font-weight="normal" fill="#111" stroke="#111" stroke-width="0.28">8</text>
<line x1="331.6" y1="576.5" x2="331.6" y2="580.3" stroke="#000" stroke-width="1.2" stroke-linecap="butt"/>
<text x="331.6" y="591.8" font-size="8.6" text-anchor="middle" font-weight="normal" fill="#111" stroke="#111" stroke-width="0.28">12</text>
<text x="193.7" y="591.6" font-size="8.6" text-anchor="start" font-weight="normal" fill="#111" stroke="#111" stroke-width="0.28" textLength="27.8" lengthAdjust="spacingAndGlyphs">Weeks</text>
<text x="191.60000000000002" y="530.35" font-size="11.0" text-anchor="middle" font-weight="normal" fill="#111" stroke="#111" stroke-width="0.28" textLength="24.2" lengthAdjust="spacingAndGlyphs" transform="rotate(-90 191.60000000000002 530.35)">pg/ml</text>
<line x1="226.7" y1="523.0" x2="226.7" y2="559.8" stroke="#111" stroke-width="1.45" stroke-linecap="butt"/>
<line x1="222.7" y1="523.0" x2="230.7" y2="523.0" stroke="#111" stroke-width="1.45" stroke-linecap="butt"/>
<line x1="222.7" y1="559.8" x2="230.7" y2="559.8" stroke="#111" stroke-width="1.45" stroke-linecap="butt"/>
<line x1="241.4" y1="540.2" x2="241.4" y2="564.7" stroke="#111" stroke-width="1.45" stroke-linecap="butt"/>
<line x1="237.4" y1="540.2" x2="245.4" y2="540.2" stroke="#111" stroke-width="1.45" stroke-linecap="butt"/>
<line x1="237.4" y1="564.7" x2="245.4" y2="564.7" stroke="#111" stroke-width="1.45" stroke-linecap="butt"/>
<line x1="271.4" y1="520.5" x2="271.4" y2="559.8" stroke="#111" stroke-width="1.45" stroke-linecap="butt"/>
<line x1="267.4" y1="520.5" x2="275.4" y2="520.5" stroke="#111" stroke-width="1.45" stroke-linecap="butt"/>
<line x1="267.4" y1="559.8" x2="275.4" y2="559.8" stroke="#111" stroke-width="1.45" stroke-linecap="butt"/>
<line x1="302.6" y1="498.0" x2="302.6" y2="564.1" stroke="#111" stroke-width="1.45" stroke-linecap="butt"/>
<line x1="298.6" y1="498.0" x2="306.6" y2="498.0" stroke="#111" stroke-width="1.45" stroke-linecap="butt"/>
<line x1="298.6" y1="564.1" x2="306.6" y2="564.1" stroke="#111" stroke-width="1.45" stroke-linecap="butt"/>
<line x1="331.9" y1="556.0" x2="331.9" y2="569.6" stroke="#111" stroke-width="1.45" stroke-linecap="butt"/>
<line x1="327.9" y1="556.0" x2="335.9" y2="556.0" stroke="#111" stroke-width="1.45" stroke-linecap="butt"/>
<line x1="327.9" y1="569.6" x2="335.9" y2="569.6" stroke="#111" stroke-width="1.45" stroke-linecap="butt"/>
<polyline points="226.7,541.4 241.4,552.8 271.4,540.2 302.6,531.2 331.9,563.3" fill="none" stroke="#96143c" stroke-width="2.2" stroke-linejoin="round"/>
<circle cx="226.7" cy="541.4" r="2.3" fill="#fff" fill-opacity="0.55" stroke="#96143c" stroke-width="1.7"/>
<circle cx="241.4" cy="552.8" r="2.3" fill="#fff" fill-opacity="0.55" stroke="#96143c" stroke-width="1.7"/>
<circle cx="271.4" cy="540.2" r="2.3" fill="#fff" fill-opacity="0.55" stroke="#96143c" stroke-width="1.7"/>
<circle cx="302.6" cy="531.2" r="2.3" fill="#fff" fill-opacity="0.55" stroke="#96143c" stroke-width="1.7"/>
<circle cx="331.9" cy="563.3" r="2.3" fill="#fff" fill-opacity="0.55" stroke="#96143c" stroke-width="1.7"/>
<rect x="400.0" y="554.2" width="111.60000000000002" height="8.899999999999977" fill="#b6b6b6"/>
<line x1="421.7" y1="483.0" x2="421.7" y2="576.5" stroke="#858585" stroke-width="1.15" stroke-dasharray="3,2.4" stroke-linecap="butt"/>
<line x1="450.5" y1="483.0" x2="450.5" y2="576.5" stroke="#858585" stroke-width="1.15" stroke-dasharray="3,2.4" stroke-linecap="butt"/>
<line x1="479.5" y1="483.0" x2="479.5" y2="576.5" stroke="#858585" stroke-width="1.15" stroke-dasharray="3,2.4" stroke-linecap="butt"/>
<text x="424.8" y="493.2" font-size="8.2" text-anchor="start" font-weight="normal" fill="#111" stroke="#111" stroke-width="0.28" textLength="21.2" lengthAdjust="spacingAndGlyphs">10mg</text>
<text x="453.4" y="493.2" font-size="8.2" text-anchor="start" font-weight="normal" fill="#111" stroke="#111" stroke-width="0.28" textLength="20.7" lengthAdjust="spacingAndGlyphs">30mg</text>
<text x="483.0" y="493.2" font-size="8.2" text-anchor="start" font-weight="normal" fill="#111" stroke="#111" stroke-width="0.28" textLength="21.6" lengthAdjust="spacingAndGlyphs">70mg</text>
<text x="438.6" y="477.7" font-size="10.2" text-anchor="start" font-weight="normal" fill="#111" stroke="#111" stroke-width="0.2" textLength="34.7" lengthAdjust="spacingAndGlyphs">CCL20</text>
<line x1="400.0" y1="484.2" x2="400.0" y2="577.25" stroke="#000" stroke-width="1.5" stroke-linecap="butt"/>
<line x1="399.25" y1="576.5" x2="511.6" y2="576.5" stroke="#000" stroke-width="1.5" stroke-linecap="butt"/>
<line x1="396.4" y1="565.6" x2="400.0" y2="565.6" stroke="#000" stroke-width="1.2" stroke-linecap="butt"/>
<text x="392.6" y="568.8000000000001" font-size="9.0" text-anchor="end" font-weight="normal" fill="#111" stroke="#111" stroke-width="0.28">0</text>
<line x1="396.4" y1="539.1" x2="400.0" y2="539.1" stroke="#000" stroke-width="1.2" stroke-linecap="butt"/>
<text x="392.6" y="542.3000000000001" font-size="9.0" text-anchor="end" font-weight="normal" fill="#111" stroke="#111" stroke-width="0.28">100</text>
<line x1="396.4" y1="512.4" x2="400.0" y2="512.4" stroke="#000" stroke-width="1.2" stroke-linecap="butt"/>
<text x="392.6" y="515.6" font-size="9.0" text-anchor="end" font-weight="normal" fill="#111" stroke="#111" stroke-width="0.28">200</text>
<line x1="419.8" y1="576.5" x2="419.8" y2="580.3" stroke="#000" stroke-width="1.2" stroke-linecap="butt"/>
<text x="419.8" y="591.8" font-size="8.6" text-anchor="middle" font-weight="normal" fill="#111" stroke="#111" stroke-width="0.28">0</text>
<line x1="448.6" y1="576.5" x2="448.6" y2="580.3" stroke="#000" stroke-width="1.2" stroke-linecap="butt"/>
<text x="448.6" y="591.8" font-size="8.6" text-anchor="middle" font-weight="normal" fill="#111" stroke="#111" stroke-width="0.28">4</text>
<line x1="477.4" y1="576.5" x2="477.4" y2="580.3" stroke="#000" stroke-width="1.2" stroke-linecap="butt"/>
<text x="477.4" y="591.8" font-size="8.6" text-anchor="middle" font-weight="normal" fill="#111" stroke="#111" stroke-width="0.28">8</text>
<line x1="504.8" y1="576.5" x2="504.8" y2="580.3" stroke="#000" stroke-width="1.2" stroke-linecap="butt"/>
<text x="504.8" y="591.8" font-size="8.6" text-anchor="middle" font-weight="normal" fill="#111" stroke="#111" stroke-width="0.28">12</text>
<text x="376.4" y="591.6" font-size="8.6" text-anchor="start" font-weight="normal" fill="#111" stroke="#111" stroke-width="0.28" textLength="27.8" lengthAdjust="spacingAndGlyphs">Weeks</text>
<text x="371.2" y="530.35" font-size="11.0" text-anchor="middle" font-weight="normal" fill="#111" stroke="#111" stroke-width="0.28" textLength="24.2" lengthAdjust="spacingAndGlyphs" transform="rotate(-90 371.2 530.35)">pg/ml</text>
<line x1="406.6" y1="534.5" x2="406.6" y2="558.1" stroke="#111" stroke-width="1.45" stroke-linecap="butt"/>
<line x1="402.6" y1="534.5" x2="410.6" y2="534.5" stroke="#111" stroke-width="1.45" stroke-linecap="butt"/>
<line x1="402.6" y1="558.1" x2="410.6" y2="558.1" stroke="#111" stroke-width="1.45" stroke-linecap="butt"/>
<line x1="419.8" y1="544.0" x2="419.8" y2="556.0" stroke="#111" stroke-width="1.45" stroke-linecap="butt"/>
<line x1="415.8" y1="544.0" x2="423.8" y2="544.0" stroke="#111" stroke-width="1.45" stroke-linecap="butt"/>
<line x1="415.8" y1="556.0" x2="423.8" y2="556.0" stroke="#111" stroke-width="1.45" stroke-linecap="butt"/>
<line x1="448.6" y1="531.5" x2="448.6" y2="553.2" stroke="#111" stroke-width="1.45" stroke-linecap="butt"/>
<line x1="444.6" y1="531.5" x2="452.6" y2="531.5" stroke="#111" stroke-width="1.45" stroke-linecap="butt"/>
<line x1="444.6" y1="553.2" x2="452.6" y2="553.2" stroke="#111" stroke-width="1.45" stroke-linecap="butt"/>
<line x1="477.4" y1="498.3" x2="477.4" y2="569.6" stroke="#111" stroke-width="1.45" stroke-linecap="butt"/>
<line x1="473.4" y1="498.3" x2="481.4" y2="498.3" stroke="#111" stroke-width="1.45" stroke-linecap="butt"/>
<line x1="473.4" y1="569.6" x2="481.4" y2="569.6" stroke="#111" stroke-width="1.45" stroke-linecap="butt"/>
<line x1="504.8" y1="541.0" x2="504.8" y2="564.1" stroke="#111" stroke-width="1.45" stroke-linecap="butt"/>
<line x1="500.8" y1="541.0" x2="508.8" y2="541.0" stroke="#111" stroke-width="1.45" stroke-linecap="butt"/>
<line x1="500.8" y1="564.1" x2="508.8" y2="564.1" stroke="#111" stroke-width="1.45" stroke-linecap="butt"/>
<polyline points="406.6,546.5 419.8,549.4 448.6,542.5 477.4,533.8 504.8,552.3" fill="none" stroke="#96143c" stroke-width="2.2" stroke-linejoin="round"/>
<circle cx="406.6" cy="546.5" r="2.3" fill="#fff" fill-opacity="0.55" stroke="#96143c" stroke-width="1.7"/>
<circle cx="419.8" cy="549.4" r="2.3" fill="#fff" fill-opacity="0.55" stroke="#96143c" stroke-width="1.7"/>
<circle cx="448.6" cy="542.5" r="2.3" fill="#fff" fill-opacity="0.55" stroke="#96143c" stroke-width="1.7"/>
<circle cx="477.4" cy="533.8" r="2.3" fill="#fff" fill-opacity="0.55" stroke="#96143c" stroke-width="1.7"/>
<circle cx="504.8" cy="552.3" r="2.3" fill="#fff" fill-opacity="0.55" stroke="#96143c" stroke-width="1.7"/>
<rect x="52.0" y="648.8" width="111.6" height="58.10000000000002" fill="#b6b6b6"/>
<line x1="74.4" y1="627.0" x2="74.4" y2="719.1" stroke="#858585" stroke-width="1.15" stroke-dasharray="3,2.4" stroke-linecap="butt"/>
<line x1="102.4" y1="627.0" x2="102.4" y2="719.1" stroke="#858585" stroke-width="1.15" stroke-dasharray="3,2.4" stroke-linecap="butt"/>
<line x1="131.8" y1="627.0" x2="131.8" y2="719.1" stroke="#858585" stroke-width="1.15" stroke-dasharray="3,2.4" stroke-linecap="butt"/>
<text x="77.0" y="637.2" font-size="8.2" text-anchor="start" font-weight="normal" fill="#111" stroke="#111" stroke-width="0.28" textLength="20.9" lengthAdjust="spacingAndGlyphs">10mg</text>
<text x="106.0" y="637.2" font-size="8.2" text-anchor="start" font-weight="normal" fill="#111" stroke="#111" stroke-width="0.28" textLength="21.0" lengthAdjust="spacingAndGlyphs">30mg</text>
<text x="135.4" y="637.2" font-size="8.2" text-anchor="start" font-weight="normal" fill="#111" stroke="#111" stroke-width="0.28" textLength="21.0" lengthAdjust="spacingAndGlyphs">70mg</text>
<text x="90.7" y="621.7" font-size="10.2" text-anchor="start" font-weight="normal" fill="#111" stroke="#111" stroke-width="0.2" textLength="34.6" lengthAdjust="spacingAndGlyphs">CCL22</text>
<line x1="52.0" y1="628.2" x2="52.0" y2="719.85" stroke="#000" stroke-width="1.5" stroke-linecap="butt"/>
<line x1="51.25" y1="719.1" x2="163.6" y2="719.1" stroke="#000" stroke-width="1.5" stroke-linecap="butt"/>
<line x1="48.4" y1="706.8" x2="52.0" y2="706.8" stroke="#000" stroke-width="1.2" stroke-linecap="butt"/>
<text x="44.6" y="710.0" font-size="9.0" text-anchor="end" font-weight="normal" fill="#111" stroke="#111" stroke-width="0.28">600</text>
<line x1="48.4" y1="680.6" x2="52.0" y2="680.6" stroke="#000" stroke-width="1.2" stroke-linecap="butt"/>
<text x="44.6" y="683.8000000000001" font-size="9.0" text-anchor="end" font-weight="normal" fill="#111" stroke="#111" stroke-width="0.28">1000</text>
<line x1="48.4" y1="654.6" x2="52.0" y2="654.6" stroke="#000" stroke-width="1.2" stroke-linecap="butt"/>
<text x="44.6" y="657.8000000000001" font-size="9.0" text-anchor="end" font-weight="normal" fill="#111" stroke="#111" stroke-width="0.28">1400</text>
<line x1="72.1" y1="719.1" x2="72.1" y2="722.9" stroke="#000" stroke-width="1.2" stroke-linecap="butt"/>
<text x="72.1" y="734.4" font-size="8.6" text-anchor="middle" font-weight="normal" fill="#111" stroke="#111" stroke-width="0.28">0</text>
<line x1="100.6" y1="719.1" x2="100.6" y2="722.9" stroke="#000" stroke-width="1.2" stroke-linecap="butt"/>
<text x="100.6" y="734.4" font-size="8.6" text-anchor="middle" font-weight="normal" fill="#111" stroke="#111" stroke-width="0.28">4</text>
<line x1="129.4" y1="719.1" x2="129.4" y2="722.9" stroke="#000" stroke-width="1.2" stroke-linecap="butt"/>
<text x="129.4" y="734.4" font-size="8.6" text-anchor="middle" font-weight="normal" fill="#111" stroke="#111" stroke-width="0.28">8</text>
<line x1="157.3" y1="719.1" x2="157.3" y2="722.9" stroke="#000" stroke-width="1.2" stroke-linecap="butt"/>
<text x="157.3" y="734.4" font-size="8.6" text-anchor="middle" font-weight="normal" fill="#111" stroke="#111" stroke-width="0.28">12</text>
<text x="23.1" y="734.2" font-size="8.6" text-anchor="start" font-weight="normal" fill="#111" stroke="#111" stroke-width="0.28" textLength="27.8" lengthAdjust="spacingAndGlyphs">Weeks</text>
<text x="18.0" y="673.6500000000001" font-size="11.0" text-anchor="middle" font-weight="normal" fill="#111" stroke="#111" stroke-width="0.28" textLength="24.2" lengthAdjust="spacingAndGlyphs" transform="rotate(-90 18.0 673.6500000000001)">pg/ml</text>
<line x1="58.8" y1="644.6" x2="58.8" y2="680.9" stroke="#111" stroke-width="1.45" stroke-linecap="butt"/>
<line x1="54.8" y1="644.6" x2="62.8" y2="644.6" stroke="#111" stroke-width="1.45" stroke-linecap="butt"/>
<line x1="54.8" y1="680.9" x2="62.8" y2="680.9" stroke="#111" stroke-width="1.45" stroke-linecap="butt"/>
<line x1="72.1" y1="642.6" x2="72.1" y2="690.8" stroke="#111" stroke-width="1.45" stroke-linecap="butt"/>
<line x1="68.1" y1="642.6" x2="76.1" y2="642.6" stroke="#111" stroke-width="1.45" stroke-linecap="butt"/>
<line x1="68.1" y1="690.8" x2="76.1" y2="690.8" stroke="#111" stroke-width="1.45" stroke-linecap="butt"/>
<line x1="100.6" y1="645.2" x2="100.6" y2="690.8" stroke="#111" stroke-width="1.45" stroke-linecap="butt"/>
<line x1="96.6" y1="645.2" x2="104.6" y2="645.2" stroke="#111" stroke-width="1.45" stroke-linecap="butt"/>
<line x1="96.6" y1="690.8" x2="104.6" y2="690.8" stroke="#111" stroke-width="1.45" stroke-linecap="butt"/>
<line x1="129.4" y1="654.5" x2="129.4" y2="710.2" stroke="#111" stroke-width="1.45" stroke-linecap="butt"/>
<line x1="125.4" y1="654.5" x2="133.4" y2="654.5" stroke="#111" stroke-width="1.45" stroke-linecap="butt"/>
<line x1="125.4" y1="710.2" x2="133.4" y2="710.2" stroke="#111" stroke-width="1.45" stroke-linecap="butt"/>
<line x1="157.3" y1="679.1" x2="157.3" y2="712.9" stroke="#111" stroke-width="1.45" stroke-linecap="butt"/>
<line x1="153.3" y1="679.1" x2="161.3" y2="679.1" stroke="#111" stroke-width="1.45" stroke-linecap="butt"/>
<line x1="153.3" y1="712.9" x2="161.3" y2="712.9" stroke="#111" stroke-width="1.45" stroke-linecap="butt"/>
<polyline points="58.8,662.5 72.1,666.3 100.6,667.7 129.4,682.5 157.3,696.0" fill="none" stroke="#96143c" stroke-width="2.2" stroke-linejoin="round"/>
<circle cx="58.8" cy="662.5" r="2.3" fill="#fff" fill-opacity="0.55" stroke="#96143c" stroke-width="1.7"/>
<circle cx="72.1" cy="666.3" r="2.3" fill="#fff" fill-opacity="0.55" stroke="#96143c" stroke-width="1.7"/>
<circle cx="100.6" cy="667.7" r="2.3" fill="#fff" fill-opacity="0.55" stroke="#96143c" stroke-width="1.7"/>
<circle cx="129.4" cy="682.5" r="2.3" fill="#fff" fill-opacity="0.55" stroke="#96143c" stroke-width="1.7"/>
<circle cx="157.3" cy="696.0" r="2.3" fill="#fff" fill-opacity="0.55" stroke="#96143c" stroke-width="1.7"/>
<rect x="0" y="0" width="520" height="745" fill="none" stroke="#000" stroke-width="3"/>
</svg>
</body></html>
